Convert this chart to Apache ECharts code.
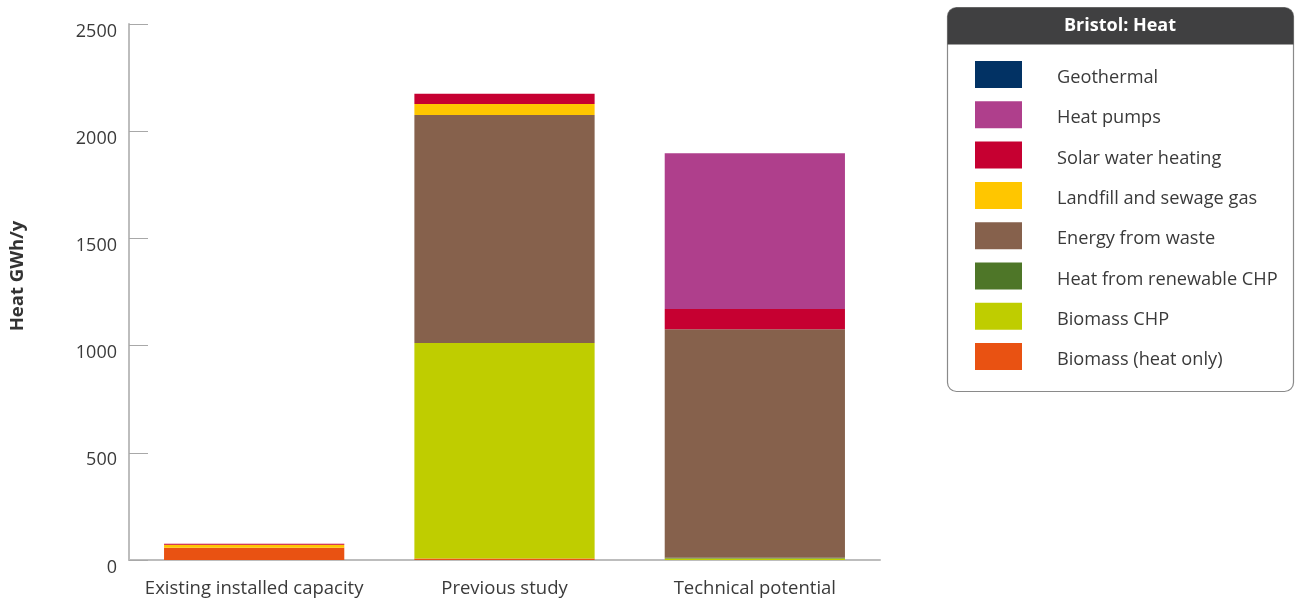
<!DOCTYPE html>
<html>
<head>
<meta charset="utf-8">
<title>Bristol: Heat</title>
<script src="https://cdn.jsdelivr.net/npm/echarts@6/dist/echarts.min.js"></script>
<style>
  html, body { margin: 0; padding: 0; background: #ffffff; }
  #chart { width: 1301px; height: 604px; }
</style>
</head>
<body>
<div id="chart"></div>
<script>
// Heat generation scenarios for Bristol, GWh per year
const categories = ['Existing installed capacity', 'Previous study', 'Technical potential'];

const biomassHeatOnly   = [57, 7, 0];
const biomassCHP        = [0, 1005, 7];
const renewableCHPHeat  = [0, 0, 3];
const energyFromWaste   = [0, 1063, 1066];
const landfillSewageGas = [14, 52, 0];
const solarWaterHeating = [5, 48, 95];
const heatPumps         = [0, 0, 726];
const geothermal        = [0, 0, 0];

const yTicks = [0, 500, 1000, 1500, 2000, 2500];

// stacked bottom to top
const stackSeries = [
  { name: 'Biomass (heat only)',       data: biomassHeatOnly,   color: '#e95212' },
  { name: 'Biomass CHP',               data: biomassCHP,        color: '#bfcd00' },
  { name: 'Heat from renewable CHP',   data: renewableCHPHeat,  color: '#4e7628' },
  { name: 'Energy from waste',         data: energyFromWaste,   color: '#86614c' },
  { name: 'Landfill and sewage gas',   data: landfillSewageGas, color: '#ffc600' },
  { name: 'Solar water heating',       data: solarWaterHeating, color: '#c60031' },
  { name: 'Heat pumps',                data: heatPumps,         color: '#af3f8c' },
  { name: 'Geothermal',                data: geothermal,        color: '#023264' }
];

const FONT = 'Open Sans';
const chart = echarts.init(document.getElementById('chart'), null, { renderer: 'canvas' });

chart.setOption({
  animation: false,
  textStyle: { fontFamily: FONT },
  grid: { left: 129, right: 421, top: 24, bottom: 44 },
  xAxis: {
    type: 'category',
    data: categories,
    axisLine: { lineStyle: { color: '#bdbdbd', width: 2 } },
    axisTick: { inside: true, length: 13, lineStyle: { color: '#a8a8a8', width: 1 } },
    axisLabel: { interval: 0, color: '#3a3a3a', fontSize: 18.5, margin: 19, fontFamily: FONT }
  },
  yAxis: {
    type: 'value',
    min: 0,
    max: yTicks[yTicks.length - 1],
    interval: yTicks[1] - yTicks[0],
    axisLine: { show: true, lineStyle: { color: '#bdbdbd', width: 2 } },
    axisTick: { show: true, inside: true, length: 19, lineStyle: { color: '#a8a8a8', width: 1 } },
    splitLine: { show: false },
    axisLabel: {
      color: '#3a3a3a', fontSize: 18, margin: 12, fontFamily: FONT,
      verticalAlign: 'top', lineHeight: 15,
      formatter: v => String(v)
    }
  },
  legend: {
    orient: 'vertical',
    left: 975,
    top: 61,
    padding: 0,
    itemWidth: 47,
    itemHeight: 27,
    itemGap: 13.3,
    icon: 'rect',
    data: stackSeries.map(s => s.name).reverse(),
    formatter: name => '{t|' + name + '}',
    textStyle: {
      color: '#3a3a3a', fontSize: 18.2, fontFamily: FONT,
      rich: { t: { color: '#3a3a3a', fontSize: 18.2, fontFamily: FONT, padding: [7, 0, 0, 30] } }
    },
    selectedMode: false
  },
  graphic: [
    {
      type: 'rect',
      shape: { x: 947.5, y: 7.5, width: 346, height: 384, r: 9 },
      style: { fill: '#ffffff', stroke: '#8a8a8a', lineWidth: 1.2 },
      z: -10
    },
    {
      type: 'rect',
      shape: { x: 947.5, y: 7.5, width: 346, height: 37, r: [9, 9, 0, 0] },
      style: { fill: '#404041' },
      z: -9
    },
    {
      type: 'text',
      x: 1120,
      y: 26,
      style: {
        text: 'Bristol: Heat',
        fill: '#ffffff',
        font: 'bold 18px "' + FONT + '"',
        textAlign: 'center',
        textVerticalAlign: 'middle'
      }
    },
    {
      // y-axis title
      type: 'text',
      x: 18,
      y: 276,
      rotation: Math.PI / 2,
      style: {
        text: 'Heat GWh/y',
        fill: '#333333',
        font: 'bold 18.5px "' + FONT + '"',
        textAlign: 'center',
        textVerticalAlign: 'middle'
      }
    }
  ],
  series: stackSeries.map(s => ({
    name: s.name,
    type: 'bar',
    stack: 'heat',
    data: s.data,
    barWidth: '72%',
    itemStyle: { color: s.color },
    emphasis: { disabled: true }
  }))
});
</script>
</body>
</html>
